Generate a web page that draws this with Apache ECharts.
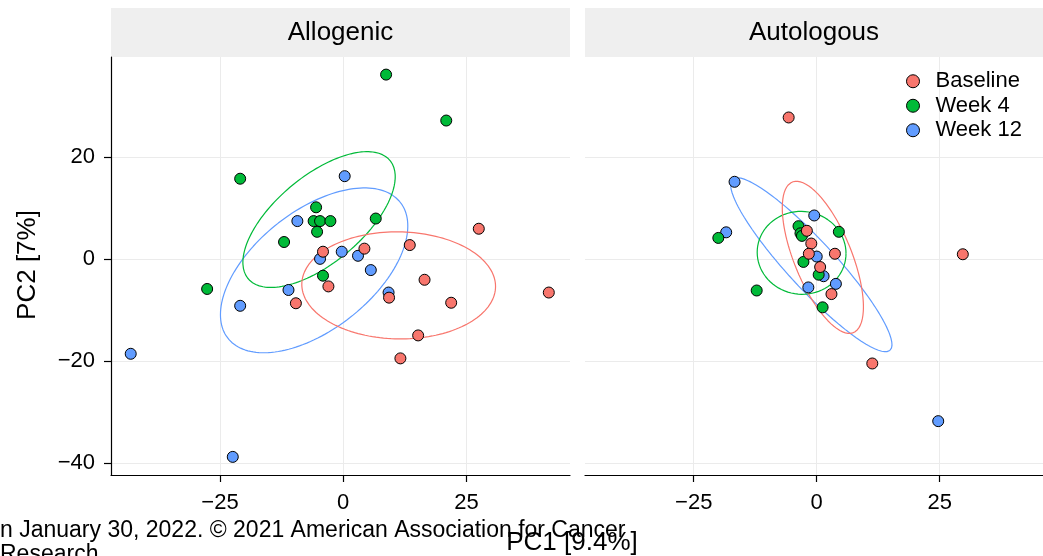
<!DOCTYPE html>
<html><head><meta charset="utf-8">
<script src="https://cdn.jsdelivr.net/npm/echarts@6/dist/echarts.min.js"></script>
<style>html,body{margin:0;padding:0;background:#fff}#c{width:1043px;height:556px}</style>
</head><body><div id="c"></div>
<script>
const groups = ['Baseline', 'Week 4', 'Week 12'];
const colors = ['#F8766D', '#00BA38', '#619CFF'];
const panels = ['Allogenic', 'Autologous'];
const xTicks = [-25, 0, 25];
const yTicks = [-40, -20, 0, 20];
const xRange = [-47.1, 46.0];
const yRange = [-42.35, 39.55];

// Allogenic panel points [PC1, PC2]
const alloBaseline = [[-4.1,1.4],[-3.0,-5.4],[-9.6,-8.7],[4.3,2.0],[13.5,2.7],[27.5,5.9],[16.5,-4.1],[9.3,-7.6],[21.9,-8.6],[41.7,-6.6],[15.2,-15.0],[11.6,-19.5]];
const alloWeek4 = [[8.7,36.1],[20.9,27.1],[-20.9,15.7],[-5.5,10.1],[-6.0,7.4],[-4.7,7.4],[-2.6,7.4],[-5.3,5.3],[-12.0,3.3],[6.6,7.9],[-4.1,-3.3],[-27.6,-5.9]];
const alloWeek12 = [[0.3,16.2],[-9.3,7.4],[-4.7,0.0],[-0.3,1.4],[3.0,0.6],[5.6,-2.2],[9.2,-6.6],[-11.1,-6.1],[-20.9,-9.2],[-43.1,-18.6],[-22.4,-38.8]];

// Autologous panel points [PC1, PC2]
const autoBaseline = [[-5.7,27.7],[-2.0,5.5],[-1.1,3.0],[-1.6,1.0],[3.7,1.0],[0.7,-1.6],[3.0,-6.9],[11.3,-20.5],[29.7,0.9]];
const autoWeek4 = [[-20.0,4.1],[-12.2,-6.2],[-3.7,6.4],[-3.3,5.0],[-3.0,4.5],[4.5,5.3],[-2.7,-0.6],[0.4,-3.1],[1.2,-9.5]];
const autoWeek12 = [[-16.7,15.1],[-18.4,5.2],[-0.5,8.5],[0.0,0.45],[1.4,-3.4],[3.9,-4.9],[-1.7,-5.6],[24.7,-31.8]];

// 95% ellipse summaries: centre [PC1, PC2] and covariance [sxx, sxy, syy]
const alloEllipseCentres = [[11.25,-5.2],[-4.9,7.7],[-5.9,-2.25]];
const alloEllipseCov = [[386,-4,110],[238.7,129.8,177],[361,165,260.8]];
const autoEllipseCentres = [[1.25,0.3],[-3.07,1.18],[-1.1,-1.15]];
const autoEllipseCov = [[68,-80,222],[81.5,-1,66],[269,-257,290.7]];

const FONT = '"Liberation Sans", Arial, Helvetica, sans-serif';

function ellipse(c, s) {
  const a = Math.sqrt(s[0]);
  const b = s[1] / a;
  const d = Math.sqrt(s[2] - b * b);
  const pts = [];
  for (let i = 0; i <= 160; i++) {
    const t = 2 * Math.PI * i / 160;
    pts.push([c[0] + a * Math.cos(t), c[1] + b * Math.cos(t) + d * Math.sin(t)]);
  }
  return pts;
}

const panelPoints = [[alloBaseline, alloWeek4, alloWeek12], [autoBaseline, autoWeek4, autoWeek12]];
const panelCentres = [alloEllipseCentres, autoEllipseCentres];
const panelCov = [alloEllipseCov, autoEllipseCov];

const gridBoxes = [{left:111, top:57, width:459, height:418}, {left:585, top:57, width:458, height:418}];
const minus = v => String(v).replace('-', '\u2212');

const xAxes = [0,1].map(i => ({
  type:'value', gridIndex:i, min:xRange[0], max:xRange[1],
  axisLine:{show:true, onZero:false, lineStyle:{color:'#000', width:1.2}},
  axisTick:{show:true, customValues:xTicks, length:7, lineStyle:{color:'#000', width:1.2}},
  axisLabel:{show:true, customValues:xTicks, formatter:minus, margin:17, color:'#000', fontSize:22, fontFamily:FONT},
  splitLine:{show:true, lineStyle:{color:'#ebebeb', width:1}}
}));
const yAxes = [0,1].map(i => ({
  type:'value', gridIndex:i, min:yRange[0], max:yRange[1],
  axisLine:{show:i===0, onZero:false, lineStyle:{color:'#000', width:1.2}},
  axisTick:{show:i===0, customValues:yTicks, length:7, lineStyle:{color:'#000', width:1.2}},
  axisLabel:{show:i===0, customValues:yTicks, formatter:minus, margin:16, color:'#000', fontSize:22, fontFamily:FONT},
  splitLine:{show:true, lineStyle:{color:'#ebebeb', width:1}}
}));

const series = [];
[0,1].forEach(p => {
  [2,1,0].forEach(g => {
    series.push({
      name: groups[g] + ' ellipse', type:'line', xAxisIndex:p, yAxisIndex:p,
      data: ellipse(panelCentres[p][g], panelCov[p][g]),
      showSymbol:false, symbol:'none', smooth:false, silent:true, z:2,
      lineStyle:{color:colors[g], width:1.2}, itemStyle:{color:colors[g]}
    });
  });
  [2,1,0].forEach(g => {
    series.push({
      name: groups[g], type:'scatter', xAxisIndex:p, yAxisIndex:p,
      data: panelPoints[p][g], symbol:'circle', symbolSize:11, z:3,
      itemStyle:{color:colors[g], borderColor:'#000', borderWidth:1, opacity:1}
    });
  });
});

const graphics = [];
panels.forEach((name, i) => {
  const b = gridBoxes[i];
  graphics.push({type:'rect', shape:{x:b.left, y:8, width:b.width, height:49}, style:{fill:'#efefef'}, silent:true});
  graphics.push({type:'text', x:b.left + b.width/2, y:32.5, style:{text:name, fill:'#000', fontSize:26, fontFamily:FONT, align:'center', verticalAlign:'middle'}, silent:true});
});
graphics.push({type:'text', x:0, y:531, style:{text:'n January 30, 2022. \u00a9 2021 American Association for Cancer', fill:'#000', fontSize:23, fontFamily:FONT, align:'left', verticalAlign:'middle'}, silent:true});
graphics.push({type:'text', x:0, y:555, style:{text:'Research', fill:'#000', fontSize:23, fontFamily:FONT, align:'left', verticalAlign:'middle'}, silent:true});
graphics.push({type:'text', x:572, y:543, style:{text:'PC1 [9.4%]', fill:'#000', fontSize:26, fontFamily:FONT, align:'center', verticalAlign:'middle'}, silent:true});
graphics.push({type:'text', x:28, y:265, rotation:Math.PI/2, style:{text:'PC2 [7%]', fill:'#000', fontSize:26, fontFamily:FONT, align:'center', verticalAlign:'middle'}, silent:true});

const chart = echarts.init(document.getElementById('c'), null, {renderer:'canvas'});
chart.setOption({
  animation:false,
  backgroundColor:'#fff',
  grid: gridBoxes.map(b => Object.assign({containLabel:false}, b)),
  xAxis: xAxes,
  yAxis: yAxes,
  legend: {
    orient:'vertical', left:901, top:65, itemGap:2, itemWidth:27, itemHeight:13,
    data: groups.map((g,i) => ({name:g, icon:'circle', itemStyle:{color:colors[i], borderColor:'#000', borderWidth:1}})),
    textStyle:{color:'#000', fontSize:22, fontFamily:FONT, lineHeight:22.5, padding:[0,0,0,4]},
    selectedMode:false
  },
  graphic: graphics,
  series: series
});
</script>
</body></html>
